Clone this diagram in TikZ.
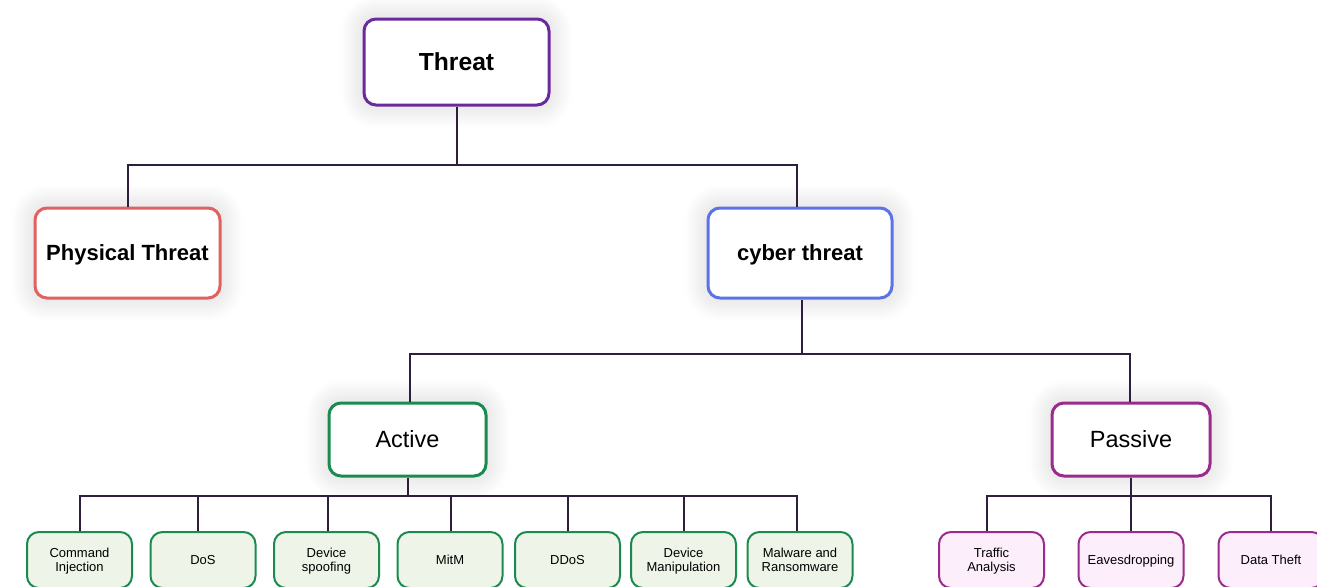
\documentclass[tikz,border=0pt]{standalone}
\usepackage{fontspec}
\setmainfont{Liberation Sans}
\usetikzlibrary{shadows.blur}
\definecolor{cThreat}{HTML}{6A2A9E}
\definecolor{cPhys}{HTML}{E0615F}
\definecolor{cCyber}{HTML}{5B73E6}
\definecolor{cActive}{HTML}{1B8A4E}
\definecolor{cPassive}{HTML}{9A2A8B}
\definecolor{fActive}{HTML}{EEF5E8}
\definecolor{fPassive}{HTML}{FDEEFC}
\definecolor{cLink}{HTML}{2E1F3D}
\tikzset{
  halo/.style={blur shadow={shadow xshift=0pt, shadow yshift=0pt,
      shadow blur radius=18pt, shadow opacity=18, shadow blur steps=14}},
  topbox/.style={draw, line width=2.25pt, rounded corners=9pt, fill=white, halo,
      align=center, inner sep=0pt, text depth=0pt},
  leafbox/.style={draw, line width=1.5pt, rounded corners=9pt, align=center,
      inner sep=0pt, minimum width=78.75pt, minimum height=42pt, text depth=0pt,
      font=\fontsize{9.75}{10.5}\selectfont},
  actleaf/.style={leafbox, draw=cActive, fill=fActive},
  pasleaf/.style={leafbox, draw=cPassive, fill=fPassive},
  link/.style={draw=cLink, line width=1.5pt}
}
\begin{document}
\begin{tikzpicture}[x=0.75pt, y=-0.75pt]
\useasboundingbox (0,0) rectangle (1317,586);
\clip (0,0) rectangle (1317,586);

% root and first level
\node[topbox, draw=cThreat, minimum width=138.75pt, minimum height=64.5pt, text height=13.25pt,
      font=\bfseries\fontsize{18.5}{20}\selectfont] (threat) at (456.5,62) {Threat};
\node[topbox, draw=cPhys, minimum width=138.75pt, minimum height=67.5pt, text height=11.8pt,
      font=\bfseries\fontsize{16.5}{18}\selectfont] (phys) at (127.5,253) {Physical Threat};
\node[topbox, draw=cCyber, minimum width=138pt, minimum height=67.5pt, text height=11.8pt,
      font=\bfseries\fontsize{16.5}{18}\selectfont] (cyber) at (800,253) {cyber threat};

% second level
\node[topbox, draw=cActive, minimum width=117.75pt, minimum height=54.75pt, text height=12.6pt,
      font=\fontsize{17.6}{19}\selectfont] (active) at (407.5,439.5) {Active};
\node[topbox, draw=cPassive, minimum width=118.5pt, minimum height=54.75pt, text height=12.6pt,
      font=\fontsize{17.6}{19}\selectfont] (passive) at (1131,439.5) {Passive};

% active attacks
\node[actleaf] (ci)  at (79.5,560)  {Command\\Injection};
\node[actleaf] (dos) at (203,560)   {DoS};
\node[actleaf] (ds)  at (326.5,560) {Device\\spoofing};
\node[actleaf] (mitm) at (450,560)  {MitM};
\node[actleaf] (ddos) at (567.5,560) {DDoS};
\node[actleaf] (dm)  at (683.5,560) {Device\\Manipulation};
\node[actleaf] (mal) at (800,560)   {Malware and\\Ransomware};

% passive attacks
\node[pasleaf] (ta) at (991.5,560) {Traffic\\Analysis};
\node[pasleaf] (ed) at (1131,560)  {Eavesdropping};
\node[pasleaf] (dt) at (1271,560)  {Data Theft};

% bus heights
\coordinate (busA) at (0,165);
\coordinate (busB) at (0,354);
\coordinate (busC) at (0,496);

% root connectors
\draw[link] (threat.south) -- (threat.south |- busA);
\draw[link] (phys.north) -- (phys.north |- busA) -- ([xshift=-2.25pt]cyber.north |- busA)
            -- ([xshift=-2.25pt]cyber.north);

% cyber connectors
\draw[link] ([xshift=1.5pt]cyber.south) -- ([xshift=1.5pt]cyber.south |- busB);
\draw[link] ([xshift=1.9pt]active.north) -- ([xshift=1.9pt]active.north |- busB)
            -- ([xshift=-0.75pt]passive.north |- busB) -- ([xshift=-0.75pt]passive.north);

% active connectors
\draw[link] (active.south) -- (active.south |- busC);
\draw[link] (ci.north) -- (ci.north |- busC) -- ([xshift=-2.25pt]mal.north |- busC)
            -- ([xshift=-2.25pt]mal.north);
\foreach \n/\dx in {dos/-3.75, ds/1.1, mitm/0.75, ddos/0.4, dm/0.4}
  \draw[link] ([xshift=\dx pt]\n.north) -- ([xshift=\dx pt]\n.north |- busC);

% passive connectors
\draw[link] (passive.south) -- (passive.south |- busC);
\draw[link] ([xshift=-3.4pt]ta.north) -- ([xshift=-3.4pt]ta.north |- busC)
            -- (dt.north |- busC) -- (dt.north);
\draw[link] (ed.north) -- (ed.north |- busC);
\end{tikzpicture}
\end{document}
